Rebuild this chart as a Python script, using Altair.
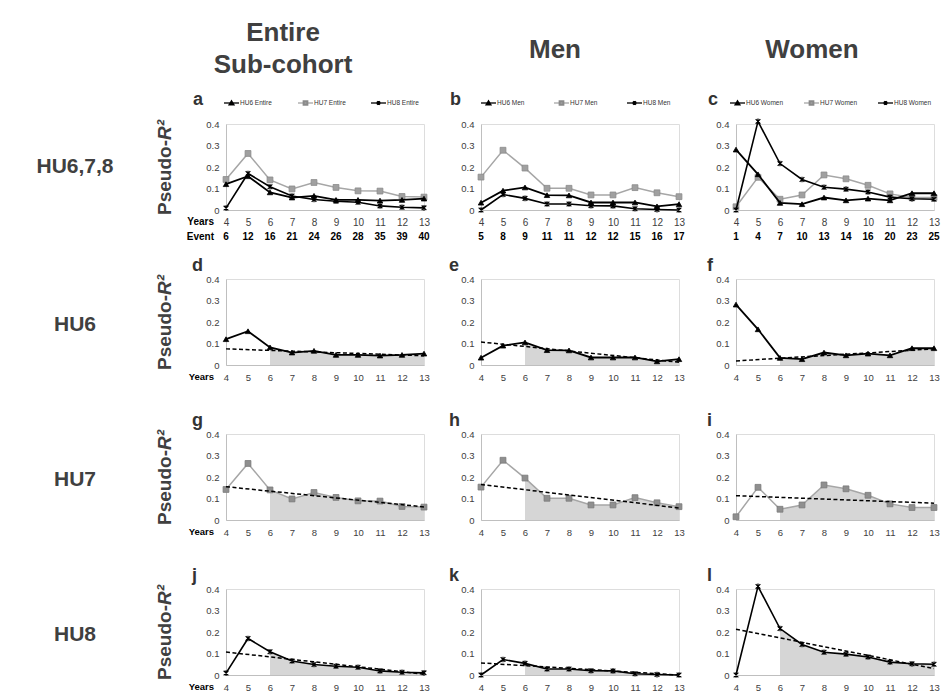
import altair as alt
import pandas as pd

# ---------------- data ----------------
YEARS = [4, 5, 6, 7, 8, 9, 10, 11, 12, 13]
Y_TICKS = [0, 0.1, 0.2, 0.3, 0.4]

HU6_ENTIRE = [0.120, 0.157, 0.082, 0.058, 0.066, 0.047, 0.047, 0.044, 0.047, 0.053]
HU7_ENTIRE = [0.142, 0.263, 0.140, 0.098, 0.128, 0.105, 0.089, 0.088, 0.063, 0.060]
HU8_ENTIRE = [0.009, 0.170, 0.108, 0.065, 0.049, 0.041, 0.036, 0.019, 0.013, 0.010]

HU6_MEN = [0.034, 0.090, 0.105, 0.069, 0.068, 0.035, 0.035, 0.035, 0.017, 0.027]
HU7_MEN = [0.153, 0.278, 0.195, 0.101, 0.101, 0.070, 0.070, 0.104, 0.080, 0.062]
HU8_MEN = [0.000, 0.072, 0.054, 0.028, 0.028, 0.020, 0.019, 0.006, 0.002, 0.000]

HU6_WOMEN = [0.281, 0.166, 0.033, 0.027, 0.058, 0.045, 0.053, 0.045, 0.078, 0.078]
HU7_WOMEN = [0.015, 0.152, 0.050, 0.070, 0.163, 0.145, 0.115, 0.075, 0.058, 0.058]
HU8_WOMEN = [0.000, 0.412, 0.216, 0.142, 0.106, 0.097, 0.084, 0.060, 0.052, 0.050]

EVENTS_ENTIRE = [6, 12, 16, 21, 24, 26, 28, 35, 39, 40]
EVENTS_MEN = [5, 8, 9, 11, 11, 12, 12, 15, 16, 17]
EVENTS_WOMEN = [1, 4, 7, 10, 13, 14, 16, 20, 23, 25]

# dashed trend lines: value at year 4 and at year 13
TREND_YEARS = [4, 13]
TREND_D = [0.075, 0.043]
TREND_E = [0.107, 0.013]
TREND_F = [0.019, 0.075]
TREND_G = [0.155, 0.061]
TREND_H = [0.165, 0.056]
TREND_I = [0.113, 0.078]
TREND_J = [0.107, 0.004]
TREND_K = [0.056, 0.000]
TREND_L = [0.213, 0.030]

SHADE_FROM = 6

COL_HEADERS = [["Entire", "Sub-cohort"], ["Men"], ["Women"]]
ROW_LABELS = ["HU6,7,8", "HU6", "HU7", "HU8"]
LETTERS = ["a", "b", "c", "d", "e", "f", "g", "h", "i", "j", "k", "l"]
GROUPS = ["Entire", "Men", "Women"]

# ---------------- styling ----------------
W, H = 198, 86
COL_GAP, ROW_GAP = 57, 69
FONT = "Liberation Sans"
TXT = "#404040"
GRAY_LINE = "#a6a6a6"
ASTER = "M-1,-1L1,1M-1,1L1,-1M0,-1.2L0,1.2"

STYLE = {
    "HU6": dict(line="black", width=1.8, shape="triangle-up", filled=True, fill="black", stroke="black", size=30),
    "HU7": dict(line=GRAY_LINE, width=1.5, shape="square", filled=True, fill="#a0a0a0", stroke="#8a8a8a", size=34),
    "HU8": dict(line="black", width=1.6, shape=ASTER, filled=False, fill="black", stroke="black", size=22),
}

xscale = alt.Scale(domain=[4, 13], nice=False, zero=False)
yscale = alt.Scale(domain=[0, 0.4], nice=False, zero=True)


def xaxis(size):
    return alt.Axis(values=YEARS, title=None, ticks=False, tickSize=0, grid=False,
                    labelFontSize=size, labelColor=TXT, labelFont=FONT, labelPadding=7,
                    domainColor="#bfbfbf", domainWidth=1, labelFlush=False, labelOverlap=False)


YAXIS = alt.Axis(values=Y_TICKS, format=".1~f", title=None, ticks=False, tickSize=0, grid=False,
                 labelFontSize=9.5, labelColor=TXT, labelFont=FONT, labelPadding=7,
                 domainColor="#bfbfbf", domainWidth=1, labelFlush=False, labelOverlap=False)


def frame(vals, start=4):
    df = pd.DataFrame({"year": YEARS, "v": vals})
    return df[df["year"] >= start]


def xy(chart, xa):
    return chart.encode(x=alt.X("year:Q", scale=xscale, axis=xa),
                        y=alt.Y("v:Q", scale=yscale, axis=YAXIS))


def series(vals, key, xa, psize=None):
    s = STYLE[key]
    df = frame(vals)
    line = xy(alt.Chart(df).mark_line(color=s["line"], strokeWidth=s["width"]), xa)
    if s["filled"]:
        pt = alt.Chart(df).mark_point(shape=s["shape"], filled=True, fill=s["fill"], stroke=s["stroke"],
                                      strokeWidth=0.8, opacity=1, size=psize or s["size"])
    else:
        pt = alt.Chart(df).mark_point(shape=s["shape"], filled=False, stroke=s["stroke"],
                                      strokeWidth=1.2, opacity=1, size=psize or s["size"])
    return [line, xy(pt, xa)]


def label(text, x, y, **kw):
    kw.setdefault("font", FONT)
    kw.setdefault("color", TXT)
    return alt.Chart(pd.DataFrame({"t": [text]})).mark_text(**kw).encode(
        x=alt.value(x), y=alt.value(y), text="t:N")


def pseudo_title():
    # "Pseudo-" upright, then an italic "R²", rotated to read bottom-to-top
    y0 = H / 2 - 27
    return [
        label("Pseudo-", -61, y0, align="right", baseline="middle", fontSize=19, fontWeight="bold", angle=270),
        label("R²", -61, y0, align="left", baseline="middle", fontSize=19, fontWeight="bold",
              fontStyle="italic", angle=270),
    ]


def legend_entry(key, name, ox):
    s = STYLE[key]
    yy = -21
    rule = alt.Chart(pd.DataFrame({"t": [name]})).mark_rule(color=s["line"], strokeWidth=1.3).encode(
        x=alt.value(ox), x2=alt.value(ox + 15), y=alt.value(yy))
    if s["filled"]:
        pt = alt.Chart(pd.DataFrame({"t": [name]})).mark_point(shape=s["shape"], filled=True, fill=s["fill"],
                                                                 stroke=s["stroke"], opacity=1, size=14)
    else:
        pt = alt.Chart(pd.DataFrame({"t": [name]})).mark_point(shape=s["shape"], filled=False,
                                                                 stroke=s["stroke"], opacity=1, size=10)
    pt = pt.encode(x=alt.value(ox + 7.5), y=alt.value(yy))
    txt = label(name, ox + 16, yy, align="left", baseline="middle", fontSize=6.5, color="#333333")
    return [rule, pt, txt]


panels = []

# ---------- row 1: all three HU series ----------
row1 = [(HU6_ENTIRE, HU7_ENTIRE, HU8_ENTIRE, EVENTS_ENTIRE),
        (HU6_MEN, HU7_MEN, HU8_MEN, EVENTS_MEN),
        (HU6_WOMEN, HU7_WOMEN, HU8_WOMEN, EVENTS_WOMEN)]
legend_offsets = [(-2, 72, 145), (0, 73, 146), (-6, 68, 142)]
letter_x = [-33, -31, -28]
header_x = [W / 2 - 42, W / 2 - 25, W / 2 - 23]

for c, (h6, h7, h8, ev) in enumerate(row1):
    xa = xaxis(10)
    layers = []
    layers += series(h7, "HU7", xa)
    layers += series(h6, "HU6", xa)
    layers += series(h8, "HU8", xa)
    evdf = pd.DataFrame({"year": YEARS, "e": [str(e) for e in ev]})
    layers.append(alt.Chart(evdf).mark_text(font=FONT, fontWeight="bold", fontSize=10, color="black").encode(
        x=alt.X("year:Q", scale=xscale, axis=xa), y=alt.value(H + 27), text="e:N"))
    grp = GROUPS[c]
    for key, ox in zip(["HU6", "HU7", "HU8"], legend_offsets[c]):
        layers += legend_entry(key, f"{key} {grp}", ox)
    layers.append(label(LETTERS[c], letter_x[c], -19, align="left", baseline="alphabetic", fontSize=18,
                        fontWeight="bold", color="#333333"))
    hdr = COL_HEADERS[c]
    if len(hdr) == 2:
        layers.append(label(hdr[0], header_x[c], -91, align="center", baseline="middle", fontSize=26, fontWeight="bold"))
        layers.append(label(hdr[1], header_x[c], -59, align="center", baseline="middle", fontSize=26, fontWeight="bold"))
    else:
        layers.append(label(hdr[0], header_x[c], -74, align="center", baseline="middle", fontSize=26, fontWeight="bold"))
    if c == 0:
        layers.append(label(ROW_LABELS[0], -151, H / 2, align="center", baseline="middle", fontSize=21, fontWeight="bold"))
        layers += pseudo_title()
        layers.append(label("Years", -12, H + 12, align="right", baseline="middle", fontSize=10,
                            fontWeight="bold", color="black"))
        layers.append(label("Event", -12, H + 27, align="right", baseline="middle", fontSize=10,
                            fontWeight="bold", color="black"))
    panels.append(alt.layer(*layers).properties(width=W, height=H))

# ---------- rows 2-4: single HU series with trend ----------
single_rows = [
    ("HU6", [HU6_ENTIRE, HU6_MEN, HU6_WOMEN], [TREND_D, TREND_E, TREND_F]),
    ("HU7", [HU7_ENTIRE, HU7_MEN, HU7_WOMEN], [TREND_G, TREND_H, TREND_I]),
    ("HU8", [HU8_ENTIRE, HU8_MEN, HU8_WOMEN], [TREND_J, TREND_K, TREND_L]),
]

letter_i = 3
for r, (key, datas, trends) in enumerate(single_rows):
    for c in range(3):
        xa = xaxis(9.5)
        vals = datas[c]
        layers = []
        area = xy(alt.Chart(frame(vals, SHADE_FROM)).mark_area(color="#d6d6d6", opacity=1), xa)
        layers.append(area)
        if key == "HU7":
            df = frame(vals)
            layers.append(xy(alt.Chart(df).mark_line(color=GRAY_LINE, strokeWidth=1.5), xa))
            layers.append(xy(alt.Chart(df).mark_point(shape="square", filled=True, fill="#8f8f8f",
                                                      stroke="#7a7a7a", strokeWidth=0.8, opacity=1, size=34), xa))
        else:
            layers += series(vals, key, xa)
        tdf = pd.DataFrame({"year": TREND_YEARS, "v": trends[c]})
        layers.append(xy(alt.Chart(tdf).mark_line(color="black", strokeWidth=1.5, strokeDash=[4, 2.5]), xa))
        layers.append(label(LETTERS[letter_i], letter_x[c] - 1, -8, align="left", baseline="alphabetic",
                            fontSize=18, fontWeight="bold", color="#333333"))
        letter_i += 1
        if c == 0:
            layers.append(label(ROW_LABELS[r + 1], -151, H / 2 + 3, align="center", baseline="middle",
                                fontSize=21, fontWeight="bold"))
            layers += pseudo_title()
            layers.append(label("Years", -12, H + 12, align="right", baseline="middle", fontSize=9.5,
                                fontWeight="bold", color="black"))
        panels.append(alt.layer(*layers).properties(width=W, height=H))

# plot "a" sits at (226, 124) on the page; the whole view stays inside the 949px window
PAD_L, PAD_T = 218, 116
SVG_W, SVG_H = 933, 687
chart = alt.concat(*panels, columns=3, spacing={"row": ROW_GAP, "column": COL_GAP}, bounds="flush").properties(
    autosize=alt.AutoSizeParams(type="none"),
    padding={"left": PAD_L, "top": PAD_T, "right": SVG_W - PAD_L, "bottom": SVG_H - PAD_T},
).configure_view(stroke=None).configure(font=FONT, background="white")

chart.save("out.html", embed_options={"renderer": "svg", "actions": False})
